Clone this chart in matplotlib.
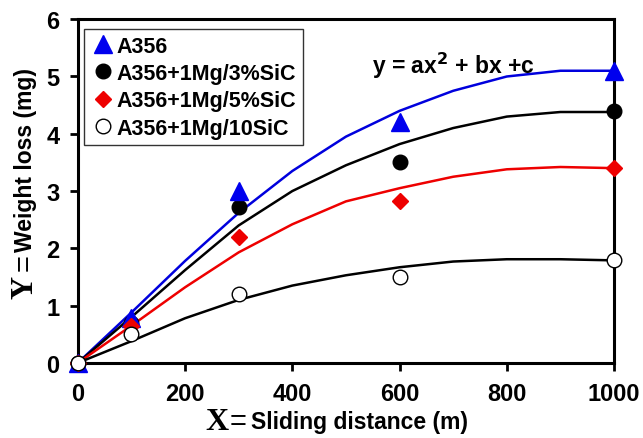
import matplotlib
matplotlib.use("Agg")
import matplotlib.pyplot as plt

# measured data
x_pts = [0, 100, 300, 600, 1000]
y_a356 = [0, 0.78, 3.0, 4.2, 5.1]
y_3sic = [0, 0.7, 2.72, 3.5, 4.4]
y_5sic = [0, 0.65, 2.2, 2.82, 3.4]
y_10sic = [0, 0.5, 1.2, 1.5, 1.8]

# fitted curves
x_fit = [0, 100, 200, 300, 400, 500, 600, 700, 800, 900, 1000]
fit_a356 = [0, 0.88, 1.78, 2.62, 3.35, 3.95, 4.4, 4.75, 5.0, 5.1, 5.1]
fit_3sic = [0, 0.8, 1.62, 2.4, 3.0, 3.45, 3.82, 4.1, 4.3, 4.38, 4.38]
fit_5sic = [0, 0.65, 1.32, 1.93, 2.42, 2.82, 3.05, 3.25, 3.38, 3.42, 3.4]
fit_10sic = [0, 0.38, 0.78, 1.1, 1.35, 1.53, 1.67, 1.77, 1.81, 1.81, 1.79]

labels = ["A356", "A356+1Mg/3%SiC", "A356+1Mg/5%SiC", "A356+1Mg/10SiC"]
xticks = [0, 200, 400, 600, 800, 1000]
yticks = [0, 1, 2, 3, 4, 5, 6]

plt.rcParams['font.family'] = ['Liberation Sans', 'DejaVu Sans']

fig = plt.figure(figsize=(6.43, 4.39), dpi=100)
ax = fig.add_axes([0.121, 0.171, 0.834, 0.783])

ax.plot(x_fit, fit_a356, color='#0000dd', lw=1.8, zorder=2)
ax.plot(x_fit, fit_3sic, color='black', lw=1.8, zorder=2)
ax.plot(x_fit, fit_5sic, color='#ee0000', lw=1.8, zorder=2)
ax.plot(x_fit, fit_10sic, color='black', lw=1.8, zorder=2)

ax.plot(x_pts, y_a356, ls='none', marker='^', ms=12.5, color='#0000ee', label=labels[0], clip_on=False, zorder=5)
ax.plot(x_pts, y_3sic, ls='none', marker='o', ms=10.5, color='black', label=labels[1], clip_on=False, zorder=4)
ax.plot(x_pts, y_5sic, ls='none', marker='D', ms=8.5, color='#ee0000', label=labels[2], clip_on=False, zorder=5)
ax.plot(x_pts, y_10sic, ls='none', marker='o', ms=10.5, mfc='white', mec='black', mew=1, label=labels[3], clip_on=False, zorder=6)

ax.set_xlim(0, 1000)
ax.set_ylim(0, 6)
ax.set_xticks(xticks)
ax.set_yticks(yticks)
for s in ax.spines.values():
    s.set_linewidth(2.2)
ax.tick_params(direction='out', length=6, width=2, labelsize=17)
ax.tick_params(axis='x', pad=8)
ax.tick_params(axis='y', pad=7)
for lab in ax.get_xticklabels() + ax.get_yticklabels():
    lab.set_fontweight('bold')

leg = ax.legend(loc='upper left', bbox_to_anchor=(0.0, 0.99), frameon=True, fancybox=False,
                edgecolor='black', handletextpad=0.1, borderpad=0.3,
                labelspacing=0.3, handlelength=1.1, borderaxespad=0.3,
                prop={'weight': 'bold', 'size': 15.5})
leg.get_frame().set_linewidth(1.0)

ax.text(700, 5.2, r"y = ax$^{\mathbf{2}}$ + bx +c", fontsize=16.5, fontweight='bold', ha='center', va='center')

# axis labels composed of parts
fig.text(0.338, 0.038, "X", family='Liberation Serif', fontweight='bold', fontsize=23, ha='center', va='center')
fig.text(0.371, 0.038, "=", fontsize=21, ha='center', va='center')
fig.text(0.391, 0.038, "Sliding distance (m)", fontsize=16.5, fontweight='bold', ha='left', va='center')

fig.text(0.039, 0.346, "Y", family='Liberation Serif', fontweight='bold', fontsize=23, ha='center', va='center', rotation=90)
fig.text(0.039, 0.402, "=", fontsize=21, ha='center', va='center', rotation=90)
fig.text(0.039, 0.426, "Weight loss (mg)", fontsize=16.5, fontweight='bold', ha='center', va='bottom', rotation=90)

fig.savefig("out.png", dpi=100)
